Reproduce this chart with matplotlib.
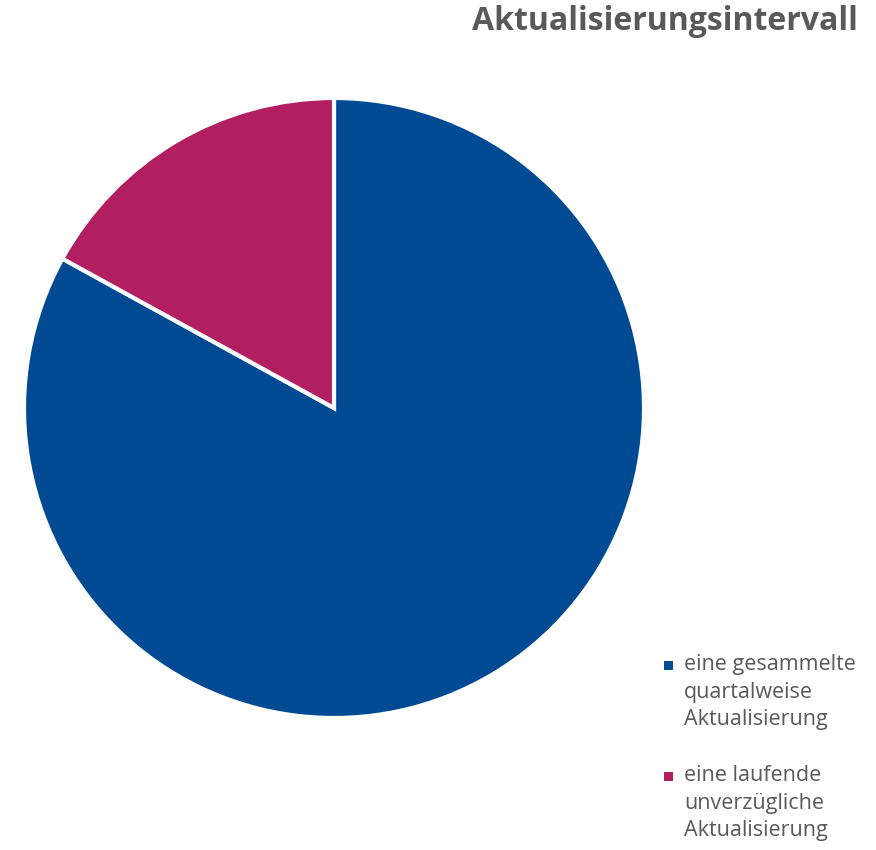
import matplotlib.pyplot as plt
from matplotlib.patches import Rectangle

plt.rcParams['font.family'] = ['Open Sans', 'DejaVu Sans']

labels = ["eine gesammelte\nquartalweise\nAktualisierung",
          "eine laufende\nunverzügliche\nAktualisierung"]
values = [83, 17]
colors = ["#004A94", "#B11F61"]

W, H = 876, 850
fig = plt.figure(figsize=(W / 100, H / 100), dpi=100)
ax = fig.add_axes([24 / W, 132 / H, 620 / W, 620 / H])
ax.pie(values, colors=colors, startangle=90, counterclock=False,
       wedgeprops=dict(edgecolor="white", linewidth=3))
ax.set_xlim(-1, 1)
ax.set_ylim(-1, 1)
ax.set_aspect("equal")

fig.text(858 / W, 1 - 22 / H, "Aktualisierungsintervall", ha="right", va="center",
         fontsize=23, fontweight="bold", color="#595959")

# legend drawn by hand: marker next to first line of each label
tops = [654, 765]
for lab, c, top in zip(labels, colors, tops):
    fig.text(684 / W, 1 - top / H, lab, ha="left", va="top", fontsize=15.5,
             color="#595959", linespacing=1.42)
    fig.patches.append(Rectangle((664 / W, 1 - (top + 16) / H), 9 / W, 9 / H,
                                 transform=fig.transFigure, facecolor=c,
                                 edgecolor="none"))

fig.savefig("out.png", dpi=100)
